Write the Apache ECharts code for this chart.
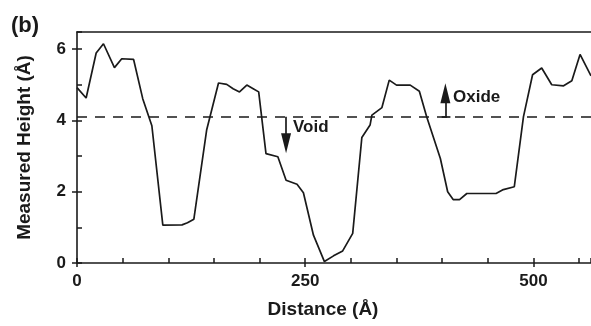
<!DOCTYPE html>
<html>
<head>
<meta charset="utf-8">
<script src="https://cdn.jsdelivr.net/npm/echarts@6/dist/echarts.min.js"></script>
<style>
  html, body { margin: 0; padding: 0; background: #fff; }
  #chart { width: 591px; height: 326px; }
</style>
</head>
<body>
<div id="chart"></div>
<script>
// profile: distance (Å) and measured height (Å)
var distance = [0, 10, 21, 29, 41, 49, 62, 72, 82, 94, 115, 121, 128, 142, 155, 164, 171, 178, 186, 193, 199,
  207, 220, 229, 241, 248, 259, 271, 281, 291, 302, 312, 321, 323, 334, 342, 350, 365, 375, 383, 398,
  406, 412, 419, 427, 459, 467, 479, 489, 499, 509, 520, 533, 542, 551, 563];
var height = [4.92, 4.63, 5.89, 6.15, 5.48, 5.73, 5.71, 4.61, 3.85, 1.06, 1.07, 1.13, 1.23, 3.73, 5.05, 5.01, 4.89, 4.80, 4.99, 4.89, 4.80,
  3.07, 2.98, 2.32, 2.21, 1.97, 0.78, 0.04, 0.20, 0.34, 0.83, 3.52, 3.87, 4.15, 4.36, 5.13, 4.99, 4.99, 4.82, 4.10, 2.93,
  2.00, 1.78, 1.78, 1.95, 1.95, 2.06, 2.14, 4.10, 5.28, 5.47, 5.00, 4.97, 5.11, 5.85, 5.25];
var threshold = 4.1;           // dashed oxide / void boundary
var voidArrow = [[229, 4.1], [229, 3.36]];
var oxideArrow = [[403.5, 4.1], [403.5, 4.76]];
var oxideBase = [[399.5, 4.1], [409, 4.1]];

var ink = '#1a1a1a';
var fontFam = '"Liberation Sans", Arial, sans-serif';

var points = [];
for (var i = 0; i < distance.length; i++) points.push([distance[i], height[i]]);

var chart = echarts.init(document.getElementById('chart'));
chart.setOption({
  backgroundColor: '#fff',
  animation: false,
  grid: { left: 77, right: 0, top: 32, bottom: 63 },
  xAxis: [
    {
      type: 'value', min: 0, max: 563, interval: 50, position: 'bottom',
      axisLine: { lineStyle: { color: ink, width: 1.6 } },
      axisTick: { inside: true, length: 5, lineStyle: { color: ink, width: 1.5 } },
      axisLabel: { show: false }, splitLine: { show: false }
    },
    {
      type: 'value', min: 0, max: 563, interval: 250, position: 'bottom',
      axisLine: { show: false },
      axisTick: { inside: false, length: 4, lineStyle: { color: ink, width: 1.5 } },
      axisLabel: { showMaxLabel: false, margin: 10, color: ink, fontSize: 17, fontWeight: 'bold', fontFamily: fontFam },
      splitLine: { show: false },
      name: 'Distance (Å)', nameLocation: 'middle', nameGap: 37,
      nameTextStyle: { color: ink, fontSize: 19, fontWeight: 'bold', fontFamily: fontFam, padding: [0, 22, 0, 0] }
    },
    {
      type: 'value', min: 0, max: 563, position: 'top',
      axisLine: { lineStyle: { color: ink, width: 1.6 } },
      axisTick: { show: false }, axisLabel: { show: false }, splitLine: { show: false }
    }
  ],
  yAxis: [
    {
      type: 'value', min: 0, max: 6.48, interval: 1, position: 'left',
      axisLine: { lineStyle: { color: ink, width: 1.6 } },
      axisTick: { inside: true, length: 5, lineStyle: { color: ink, width: 1.5 } },
      axisLabel: { show: false }, splitLine: { show: false }
    },
    {
      type: 'value', min: 0, max: 6.48, interval: 2, position: 'left',
      axisLine: { show: false },
      axisTick: { inside: false, length: 5, lineStyle: { color: ink, width: 1.5 } },
      axisLabel: { showMaxLabel: false, margin: 11, color: ink, fontSize: 17, fontWeight: 'bold', fontFamily: fontFam },
      splitLine: { show: false },
      name: 'Measured Height (Å)', nameLocation: 'middle', nameGap: 43,
      nameTextStyle: { color: ink, fontSize: 19, fontWeight: 'bold', fontFamily: fontFam }
    }
  ],
  graphic: [
    { type: 'text', left: 11, top: 15, style: { text: '(b)', fill: ink, font: 'bold 22px ' + fontFam } },
    { type: 'text', left: 293, top: 119, style: { text: 'Void', fill: ink, font: 'bold 17px ' + fontFam } },
    { type: 'text', left: 453, top: 89, style: { text: 'Oxide', fill: ink, font: 'bold 17px ' + fontFam } }
  ],
  series: [
    {
      type: 'line', xAxisIndex: 0, yAxisIndex: 0,
      data: points, symbol: 'none', clip: true,
      lineStyle: { color: ink, width: 1.7 },
      markLine: {
        silent: true, symbol: 'none', animation: false,
        label: { show: false },
        lineStyle: { color: ink, width: 1.7, type: 'solid' },
        data: [
          [{ yAxis: threshold, x: 77, lineStyle: { type: [10, 8] } }, { yAxis: threshold, x: 591 }],
          [{ coord: voidArrow[0] }, { coord: voidArrow[1], symbol: 'triangle', symbolSize: [10, 20] }],
          [{ coord: oxideArrow[0] }, { coord: oxideArrow[1], symbol: 'triangle', symbolSize: [10, 20] }],
          [{ coord: oxideBase[0] }, { coord: oxideBase[1] }]
        ]
      }
    }
  ]
});
</script>
</body>
</html>
